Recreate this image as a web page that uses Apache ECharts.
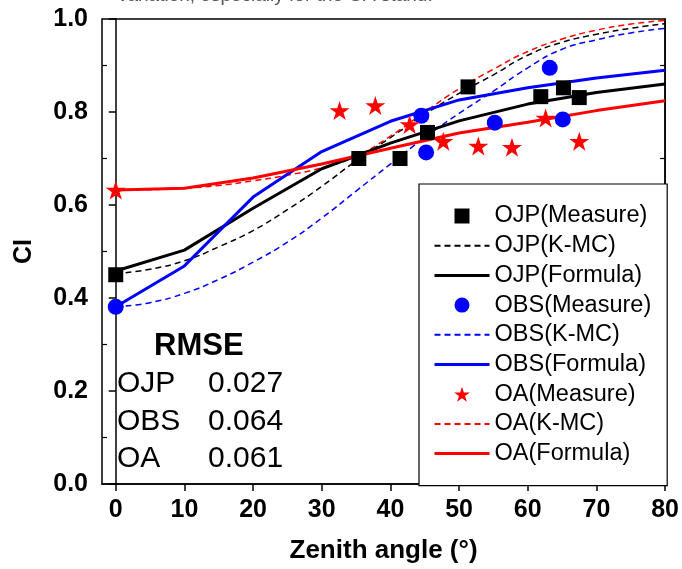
<!DOCTYPE html>
<html>
<head>
<meta charset="utf-8">
<script src="https://cdn.jsdelivr.net/npm/echarts@6/dist/echarts.min.js"></script>
<style>
  html, body { margin: 0; padding: 0; background: #fff; }
  #chart { width: 682px; height: 569px; }
</style>
</head>
<body>
<div id="chart"></div>
<script>
// Measured clumping index (CI) against solar zenith angle
const ojpMeasureAngle = [0, 35.4, 41.4, 45.4, 51.3, 61.9, 65.2, 67.5];
const ojpMeasureCI    = [0.450, 0.700, 0.700, 0.756, 0.854, 0.833, 0.852, 0.831];
const obsMeasureAngle = [0, 44.5, 45.2, 55.2, 63.2, 65.1];
const obsMeasureCI    = [0.381, 0.792, 0.713, 0.777, 0.895, 0.784];
const oaMeasureAngle  = [0, 32.6, 37.8, 42.8, 47.7, 52.8, 57.7, 62.6, 67.5];
const oaMeasureCI     = [0.632, 0.803, 0.814, 0.773, 0.737, 0.727, 0.724, 0.787, 0.737];

// K-MC simulated curves
const kmcAngles = [0, 5, 10, 15, 20, 25, 30, 35, 40, 45, 50, 55, 60, 65, 70, 75, 80];
const ojpKmc = [0.452, 0.462, 0.480, 0.510, 0.545, 0.590, 0.640, 0.695, 0.745, 0.795, 0.840, 0.880, 0.922, 0.950, 0.967, 0.980, 0.990];
const obsKmc = [0.381, 0.390, 0.410, 0.440, 0.477, 0.520, 0.572, 0.630, 0.688, 0.745, 0.797, 0.845, 0.895, 0.935, 0.955, 0.970, 0.980];
const oaKmc  = [0.632, 0.633, 0.636, 0.642, 0.652, 0.664, 0.680, 0.705, 0.748, 0.800, 0.850, 0.892, 0.930, 0.957, 0.976, 0.989, 0.997];

// Formula curves
const formulaAngles = [0, 10, 20, 30, 40, 50, 60, 70, 80];
const ojpFormula = [0.458, 0.503, 0.593, 0.678, 0.733, 0.781, 0.817, 0.842, 0.860];
const obsFormula = [0.381, 0.469, 0.617, 0.715, 0.780, 0.826, 0.852, 0.873, 0.890];
const oaFormula  = [0.632, 0.636, 0.658, 0.688, 0.722, 0.755, 0.778, 0.803, 0.824];

// Axis ticks
const xTickValues = [0, 10, 20, 30, 40, 50, 60, 70, 80];
const yMinorTicks = [0.1, 0.3, 0.5, 0.7, 0.9];

// RMSE table
const rmseNames  = ['OJP', 'OBS', 'OA'];
const rmseValues = ['0.027', '0.064', '0.061'];

const BLACK = '#000000', BLUE = '#0000ff', RED = '#ff0000';
const STAR = 'path://M50,0 L61.2,34.5 L97.6,34.5 L68.2,55.9 L79.4,90.5 L50,69.1 L20.6,90.5 L31.8,55.9 L2.4,34.5 L38.8,34.5 Z';
const SQUARE = 'path://M0,0 L10,0 L10,10 L0,10 Z';
const FONT = '"Liberation Sans", Arial, sans-serif';

const zip = (xs, ys) => xs.map((x, i) => [x, ys[i]]);

function measure(name, xs, ys, symbol, size, color) {
  return { name, type: 'scatter', data: zip(xs, ys), symbol, symbolSize: size,
           itemStyle: { color, opacity: 1 }, z: 5 };
}
function curve(name, xs, ys, color, dashed, smooth) {
  return { name, type: 'line', data: zip(xs, ys), symbol: 'none', smooth,
           lineStyle: dashed ? { color, width: 1.5, type: [6, 4] } : { color, width: 3 },
           itemStyle: { color }, z: dashed ? 3 : 4 };
}

const chart = echarts.init(document.getElementById('chart'), null, { renderer: 'canvas' });

const rmseGraphics = [
  { type: 'text', left: 154, top: 331, style: { text: 'RMSE', font: 'bold 31px ' + FONT, fill: '#000' } }
];
rmseNames.forEach((n, i) => {
  rmseGraphics.push({ type: 'text', left: 117, top: 369 + i * 37.5, style: { text: n, font: '30px ' + FONT, fill: '#000' } });
  rmseGraphics.push({ type: 'text', left: 208, top: 369 + i * 37.5, style: { text: rmseValues[i], font: '30px ' + FONT, fill: '#000' } });
});

// Legend entries for curves: line only, no marker
const dashLegend = name => ({ name, itemStyle: { opacity: 0 } });
const solidLegend = name => ({ name, itemStyle: { opacity: 0 }, lineStyle: { width: 3 } });

chart.setOption({
  animation: false,
  backgroundColor: '#fff',
  grid: { left: 102, right: 14, top: 19, bottom: 83, show: true, borderColor: '#000', borderWidth: 1.5, backgroundColor: 'transparent' },
  xAxis: {
    type: 'value', min: -2, max: 80,
    name: 'Zenith angle (°)', nameLocation: 'middle', nameGap: 54,
    nameTextStyle: { fontFamily: FONT, fontWeight: 'bold', fontSize: 26, color: '#000' },
    axisLine: { show: true, onZero: false, lineStyle: { color: '#000', width: 1.5 } },
    axisTick: { show: true, customValues: xTickValues, length: 7, lineStyle: { color: '#000', width: 1.5 } },
    axisLabel: { customValues: xTickValues, margin: 14, fontFamily: FONT, fontWeight: 'bold', fontSize: 25, color: '#000' },
    splitLine: { show: false }
  },
  yAxis: [
    {
      type: 'value', min: 0, max: 1, interval: 0.2,
      name: 'CI', nameLocation: 'middle', nameGap: 65,
      nameTextStyle: { fontFamily: FONT, fontWeight: 'bold', fontSize: 25, color: '#000' },
      axisLine: { show: true, lineStyle: { color: '#000', width: 1.5 } },
      axisTick: { show: true, length: 7, lineStyle: { color: '#000', width: 1.5 } },
      axisLabel: { margin: 14, formatter: v => v.toFixed(1), fontFamily: FONT, fontWeight: 'bold', fontSize: 25, color: '#000' },
      splitLine: { show: false }
    },
    {
      type: 'value', min: 0, max: 1, position: 'left',
      axisLine: { show: false },
      axisTick: { show: true, inside: true, customValues: yMinorTicks, length: 5, lineStyle: { color: '#000', width: 1.2 } },
      axisLabel: { show: false }, splitLine: { show: false }
    },
    {
      type: 'value', min: 0, max: 1, position: 'right',
      axisLine: { show: true, lineStyle: { color: '#000', width: 1.5 } },
      axisTick: { show: true, inside: true, customValues: yMinorTicks, length: 5, lineStyle: { color: '#000', width: 1.2 } },
      axisLabel: { show: false }, splitLine: { show: false }
    }
  ],
  legend: {
    orient: 'vertical', left: 419, top: 184,
    padding: [20, 16, 20, 14], itemGap: 5.7,
    itemWidth: 55, itemHeight: 15,
    backgroundColor: '#fff', borderColor: '#000', borderWidth: 1.2,
    textStyle: { fontFamily: FONT, fontSize: 23.5, lineHeight: 22, color: '#000' },
    selectedMode: false,
    data: [
      { name: 'OJP(Measure)', icon: SQUARE },
      dashLegend('OJP(K-MC)'),
      solidLegend('OJP(Formula)'),
      { name: 'OBS(Measure)', icon: 'circle' },
      dashLegend('OBS(K-MC)'),
      solidLegend('OBS(Formula)'),
      { name: 'OA(Measure)', icon: STAR },
      dashLegend('OA(K-MC)'),
      solidLegend('OA(Formula)')
    ]
  },
  graphic: [
    { type: 'text', left: 118, top: -14, style: { text: 'variation, especially for the OA stand.', font: '19px ' + FONT, fill: '#555' } }
  ].concat(rmseGraphics),
  series: [
    measure('OJP(Measure)', ojpMeasureAngle, ojpMeasureCI, 'rect', 15, BLACK),
    curve('OJP(K-MC)', kmcAngles, ojpKmc, BLACK, true, true),
    curve('OJP(Formula)', formulaAngles, ojpFormula, BLACK, false, false),
    measure('OBS(Measure)', obsMeasureAngle, obsMeasureCI, 'circle', 16, BLUE),
    curve('OBS(K-MC)', kmcAngles, obsKmc, BLUE, true, true),
    curve('OBS(Formula)', formulaAngles, obsFormula, BLUE, false, false),
    measure('OA(Measure)', oaMeasureAngle, oaMeasureCI, STAR, [20, 19], RED),
    curve('OA(K-MC)', kmcAngles, oaKmc, RED, true, true),
    curve('OA(Formula)', formulaAngles, oaFormula, RED, false, false)
  ]
});
</script>
</body>
</html>
